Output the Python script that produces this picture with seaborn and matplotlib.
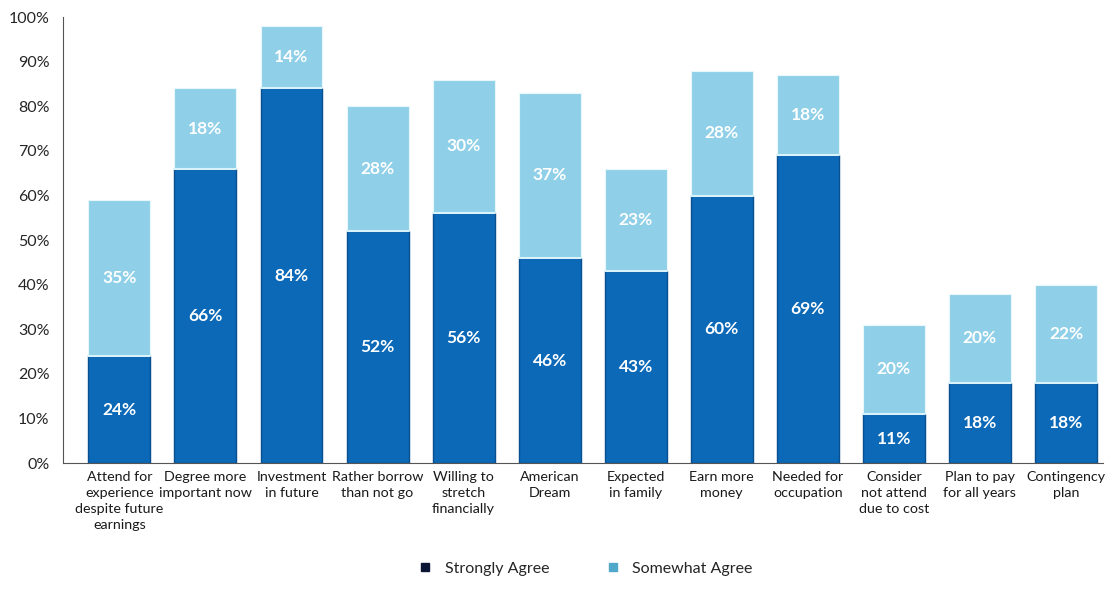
"""
Stacked bar chart of reasons for attending college (strongly / somewhat agree)
"""
import numpy as np
import matplotlib
matplotlib.use("Agg")
import matplotlib.pyplot as plt
from matplotlib.lines import Line2D
import seaborn as sns

categories = [
    "Attend for\nexperience\ndespite future\nearnings",
    "Degree more\nimportant now",
    "Investment\nin future",
    "Rather borrow\nthan not go",
    "Willing to\nstretch\nfinancially",
    "American\nDream",
    "Expected\nin family",
    "Earn more\nmoney",
    "Needed for\noccupation",
    "Consider\nnot attend\ndue to cost",
    "Plan to pay\nfor all years",
    "Contingency\nplan",
]
strongly_agree = [24, 66, 84, 52, 56, 46, 43, 60, 69, 11, 18, 18]
somewhat_agree = [35, 18, 14, 28, 30, 37, 23, 28, 18, 20, 20, 22]
series_names = ["Strongly Agree", "Somewhat Agree"]

dark_blue = "#0b69b7"
light_blue = "#8fd0e8"

sns.set_style("white")
plt.rcParams["font.family"] = ["Lato", "DejaVu Sans"]

fig = plt.figure(figsize=(11.13, 5.9), dpi=100)
ax = fig.add_axes([0.057, 0.215, 0.934, 0.756])

strong = np.array(strongly_agree)
somewhat = np.array(somewhat_agree)
totals = strong + somewhat
x = np.arange(len(categories))

# light segment drawn as the full stack, dark segment on top of it
sns.barplot(x=x, y=totals, color=light_blue, saturation=1, width=0.72,
            edgecolor="#e8f7fc", linewidth=0.8, ax=ax)
sns.barplot(x=x, y=strong, color=dark_blue, saturation=1, width=0.72,
            edgecolor="#0a4f8f", linewidth=1.0, ax=ax)

# thin pale line between the two segments
for i, s in enumerate(strong):
    ax.plot([i - 0.36, i + 0.36], [s, s], color="#d8f3fb", lw=1.5, zorder=5)

for i in range(len(categories)):
    ax.text(i, strong[i] / 2, f"{strong[i]}%", ha="center", va="center",
            color="white", fontsize=12.5, fontweight="bold", zorder=6)
    ax.text(i, strong[i] + somewhat[i] / 2, f"{somewhat[i]}%", ha="center",
            va="center", color="white", fontsize=12.5, fontweight="bold", zorder=6)

ax.set_xlim(-0.65, 11.43)
ax.set_ylim(0, 100)
ax.set_yticks(np.arange(0, 101, 10))
ax.set_yticklabels([f"{v}%" for v in range(0, 101, 10)], fontsize=11.5)
ax.set_xticks(x)
ax.set_xticklabels(categories, fontsize=10.3, linespacing=1.4, va="top",
                   color="#1a1a1a")
ax.set_xticks(np.arange(0.5, len(categories) - 0.5, 1), minor=True)
ax.tick_params(axis="x", which="major", length=0, pad=6)
ax.tick_params(axis="x", which="minor", length=5, color="#555555", direction="out")
ax.tick_params(axis="y", length=4, color="#555555", direction="out", pad=6)
ax.set_xlabel("")
ax.set_ylabel("")

sns.despine(ax=ax, top=True, right=True)
ax.spines["left"].set_color("#555555")
ax.spines["bottom"].set_color("#555555")

handles = [
    Line2D([0], [0], marker="s", color="none", markerfacecolor="#0b1535",
           markeredgecolor="#0b1535", markersize=6, label=series_names[0]),
    Line2D([0], [0], marker="s", color="none", markerfacecolor="#4fa8c9",
           markeredgecolor="#4fa8c9", markersize=6, label=series_names[1]),
]
fig.legend(handles=handles, loc="lower center", bbox_to_anchor=(0.522, 0.0),
           ncol=2, frameon=False, fontsize=11.5, handletextpad=0.2,
           columnspacing=3.0)

fig.savefig("out.png", dpi=100)
